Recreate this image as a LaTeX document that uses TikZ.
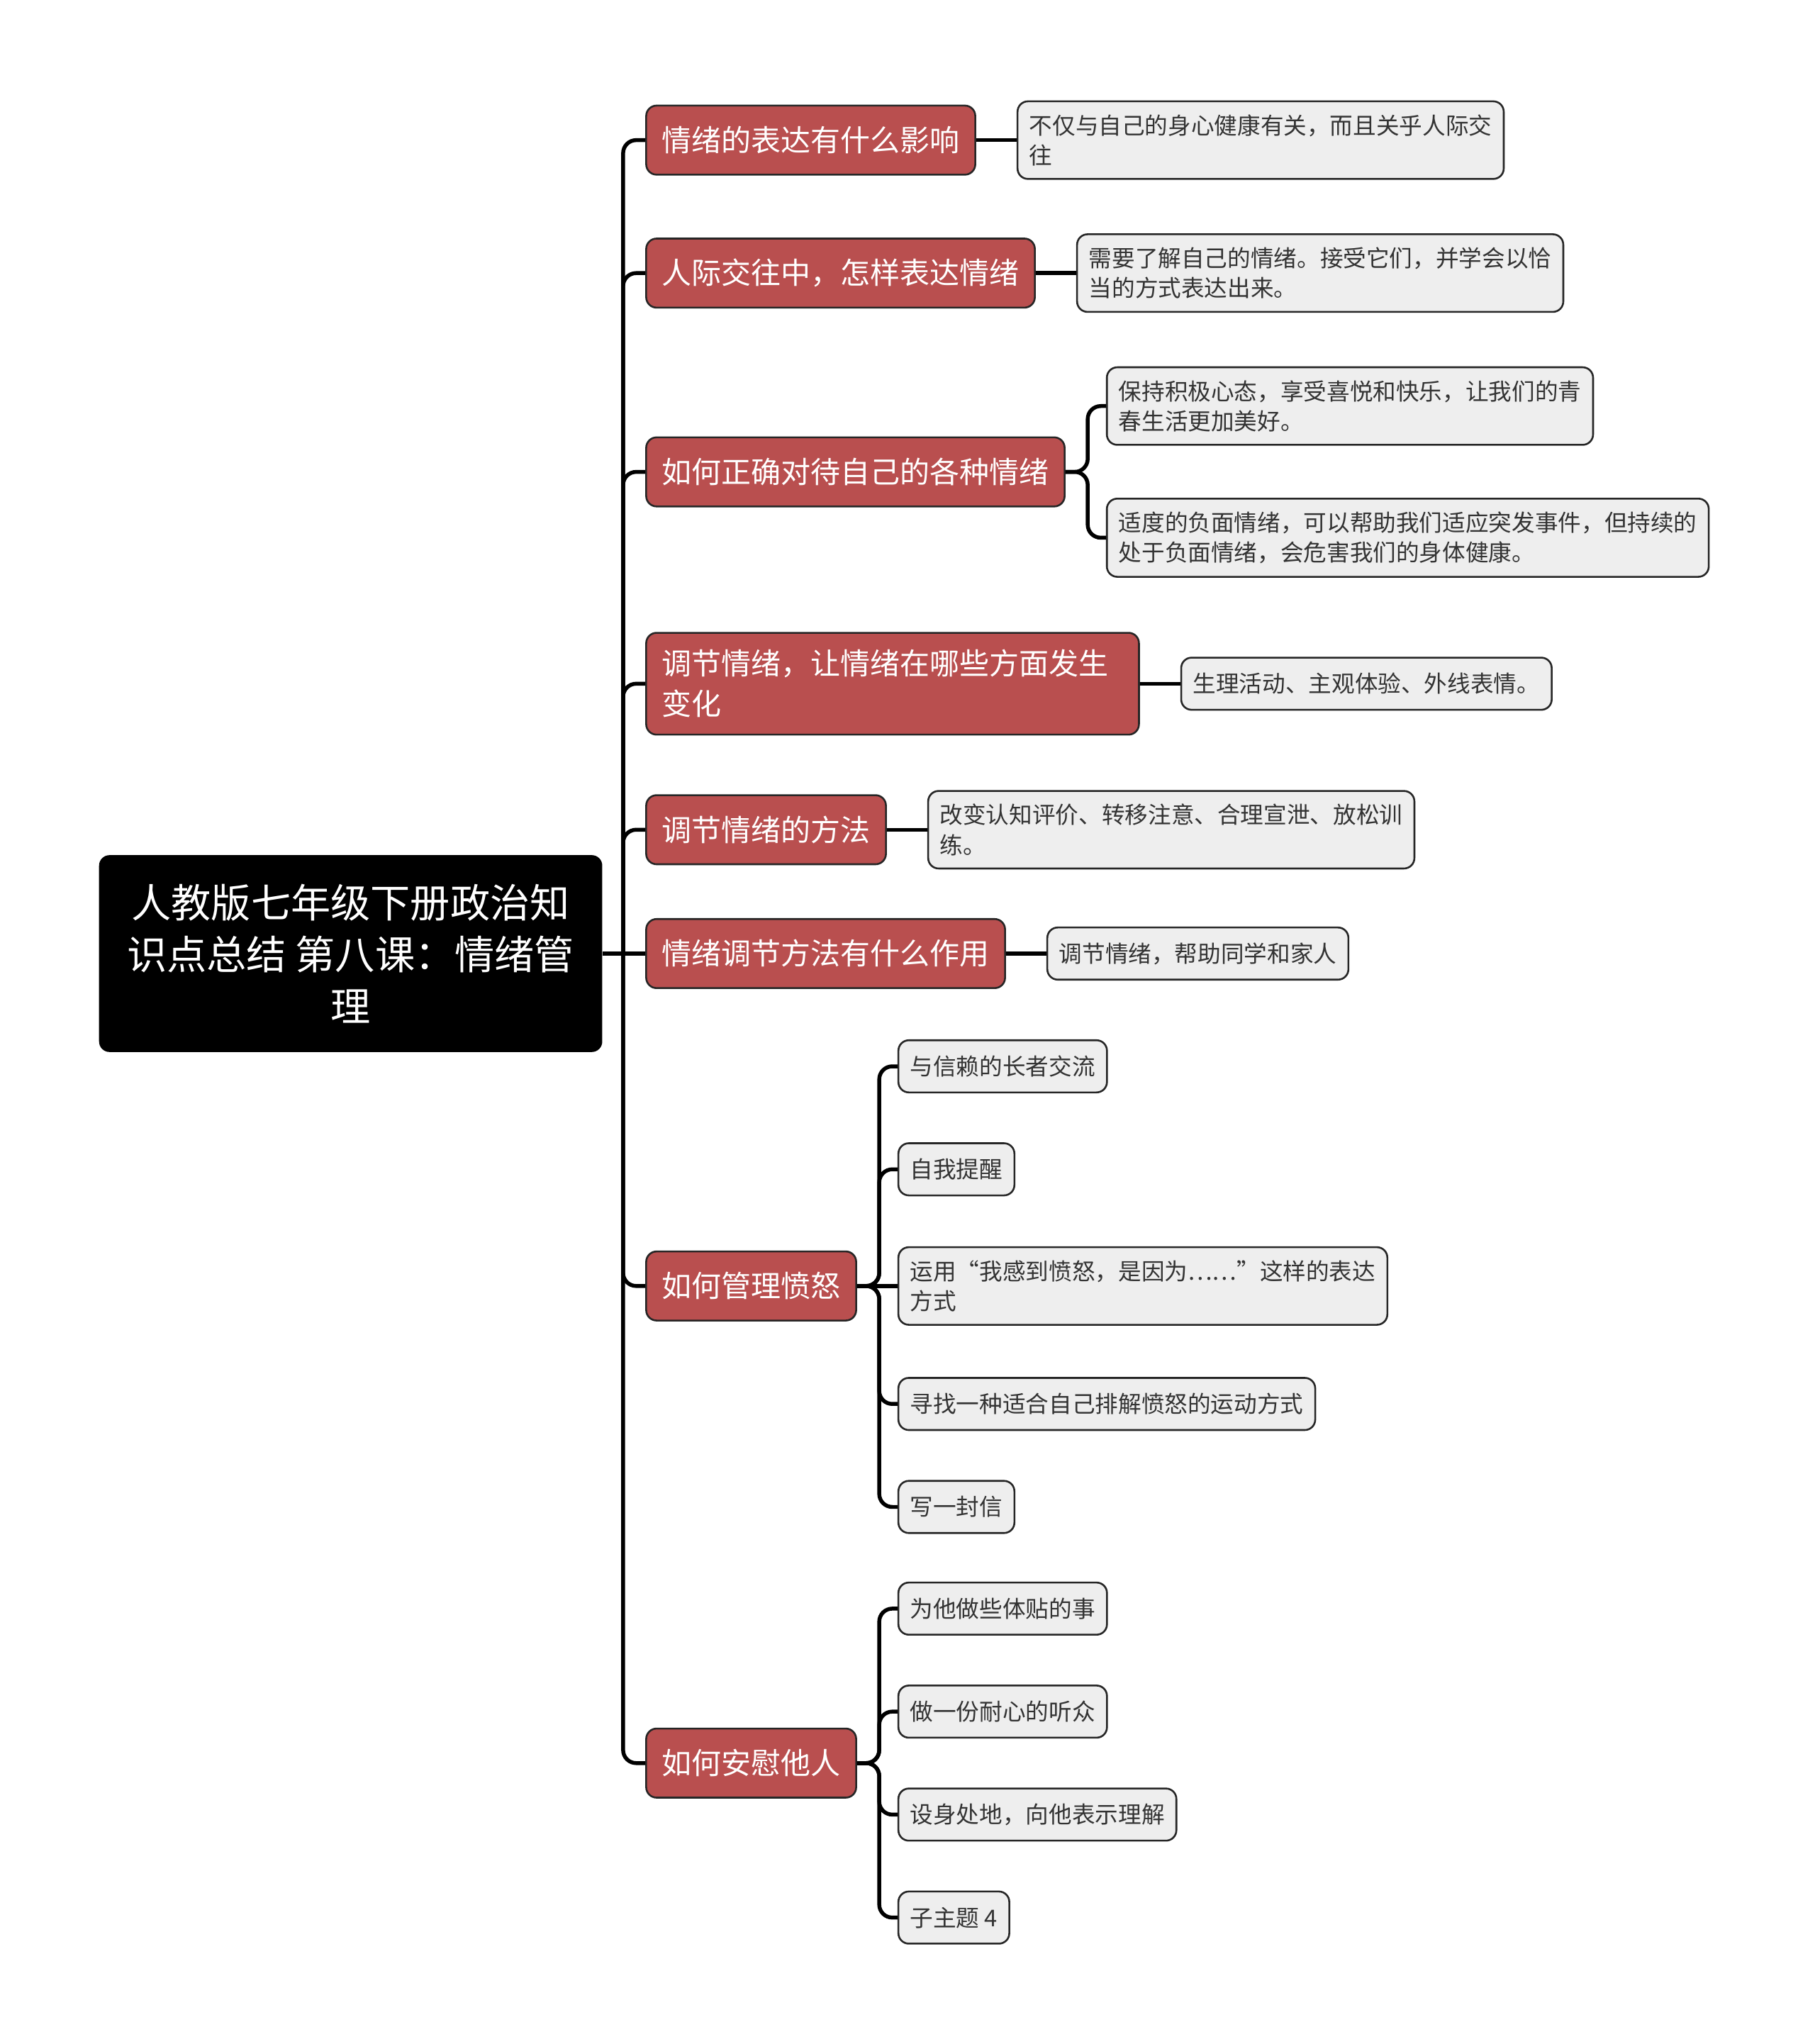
\documentclass[tikz,border=0pt]{standalone}
\usepackage{fontspec}
\setmainfont{Noto Sans CJK SC}
\usepackage{tikz}
\usepackage{xcolor}
\usetikzlibrary{positioning,calc}
\definecolor{topicred}{HTML}{B94F4F}
\definecolor{leafgray}{HTML}{EEEEEE}
\definecolor{inkdark}{HTML}{333333}

\begin{document}
\begin{tikzpicture}[
  node distance=0.62cm,
  rootbox/.style={rectangle, rounded corners=0.16cm, fill=black, text=white,
    minimum width=7.72cm, minimum height=3.02cm, align=center,
    font=\fontsize{17.4}{22.7}\selectfont},
  topicbox/.style={rectangle, rounded corners=0.16cm, draw=black!85, line width=0.8pt,
    fill=topicred, text=white, anchor=west, inner xsep=0.24cm, inner ysep=0.26cm,
    minimum height=1.06cm, align=left, font=\fontsize{13}{17.6}\selectfont},
  leafbox/.style={rectangle, rounded corners=0.16cm, draw=black!85, line width=0.8pt,
    fill=leafgray, text=inkdark, inner xsep=0.18cm, inner ysep=0.2cm,
    minimum height=0.8cm, align=left, font=\fontsize{10.1}{13.1}\selectfont},
  link/.style={line width=1.7pt, black, rounded corners=0.2cm},
]
\useasboundingbox (0,0) rectangle (27.84,-31.36);

% Root
\node[rootbox] (root) at (5.38,-14.63) {人教版七年级下册政治知\\识点总结 第八课：情绪管\\理};
\coordinate (trunk) at (9.56,-14.63);

% Main topics
\node[topicbox] (express) at (9.9,-2.15) {情绪的表达有什么影响};
\node[topicbox] (social) at (9.9,-4.19) {人际交往中，怎样表达情绪};
\node[topicbox] (treat) at (9.9,-7.24) {如何正确对待自己的各种情绪};
\node[topicbox, text width=7.08cm] (adjust) at (9.9,-10.49) {调节情绪，让情绪在哪些方面发生\\变化};
\node[topicbox] (method) at (9.9,-12.73) {调节情绪的方法};
\node[topicbox] (effect) at (9.9,-14.63) {情绪调节方法有什么作用};
\node[topicbox] (anger) at (9.9,-19.73) {如何管理愤怒};
\node[topicbox] (comfort) at (9.9,-27.05) {如何安慰他人};

% Leaves
\node[leafbox, right=of express] (expressleaf) {不仅与自己的身心健康有关，而且关乎人际交\\往};
\node[leafbox, right=of social] (socialleaf) {需要了解自己的情绪。接受它们，并学会以恰\\当的方式表达出来。};
\node[leafbox, right=of treat, yshift=1.01cm] (treatpos) {保持积极心态，享受喜悦和快乐，让我们的青\\春生活更加美好。};
\node[leafbox, right=of treat, yshift=-1.01cm] (treatneg) {适度的负面情绪，可以帮助我们适应突发事件，但持续的\\处于负面情绪，会危害我们的身体健康。};
\node[leafbox, right=of adjust] (adjustleaf) {生理活动、主观体验、外线表情。};
\node[leafbox, right=of method] (methodleaf) {改变认知评价、转移注意、合理宣泄、放松训\\练。};
\node[leafbox, right=of effect] (effectleaf) {调节情绪，帮助同学和家人};

\node[leafbox, right=of anger, yshift=3.37cm] (angera) {与信赖的长者交流};
\node[leafbox, right=of anger, yshift=1.79cm] (angerb) {自我提醒};
\node[leafbox, right=of anger] (angerc) {运用“我感到愤怒，是因为……”这样的表达\\方式};
\node[leafbox, right=of anger, yshift=-1.81cm] (angerd) {寻找一种适合自己排解愤怒的运动方式};
\node[leafbox, right=of anger, yshift=-3.39cm] (angere) {写一封信};

\node[leafbox, right=of comfort, yshift=2.37cm] (comforta) {为他做些体贴的事};
\node[leafbox, right=of comfort, yshift=0.79cm] (comfortb) {做一份耐心的听众};
\node[leafbox, right=of comfort, yshift=-0.79cm] (comfortc) {设身处地，向他表示理解};
\node[leafbox, right=of comfort, yshift=-2.37cm] (comfortd) {子主题 4};

% Connectors
\draw[link] (root.east) -- (effect.west);
\foreach \t in {express,social,treat,adjust,method,anger,comfort}
  \draw[link] (trunk) |- (\t.west);

\draw[link] (express.east) -- (expressleaf.west);
\draw[link] (social.east) -- (socialleaf.west);
\draw[link] (adjust.east) -- (adjustleaf.west);
\draw[link] (method.east) -- (methodleaf.west);
\draw[link] (effect.east) -- (effectleaf.west);

\foreach \c in {treatpos,treatneg}
  \draw[link] (treat.east) -- ++(0.34,0) |- (\c.west);
\draw[link] (anger.east) -- (angerc.west);
\foreach \c in {angera,angerb,angerd,angere}
  \draw[link] (anger.east) -- ++(0.34,0) |- (\c.west);
\foreach \c in {comforta,comfortb,comfortc,comfortd}
  \draw[link] (comfort.east) -- ++(0.34,0) |- (\c.west);
\end{tikzpicture}
\end{document}
